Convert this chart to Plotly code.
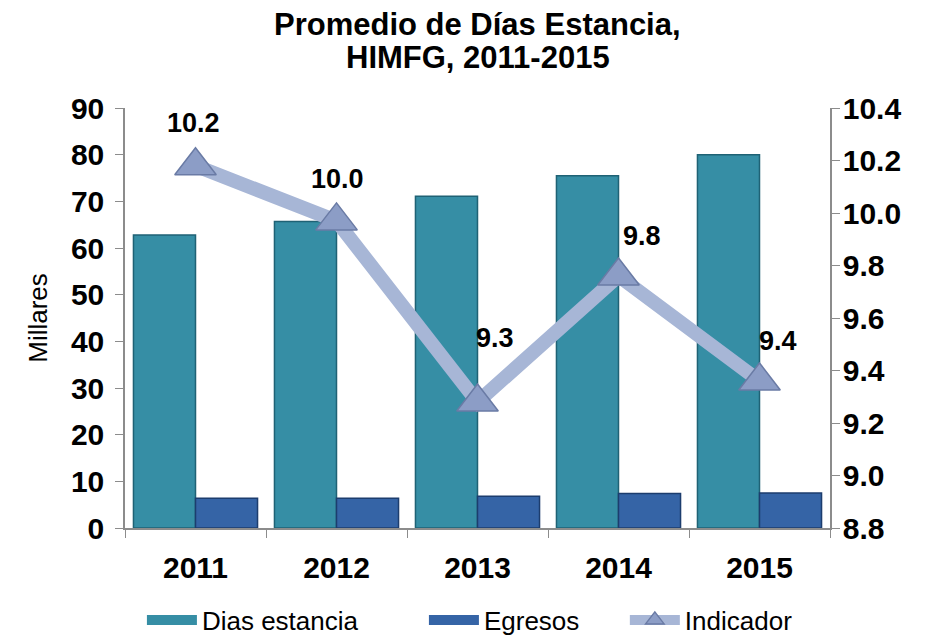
import plotly.graph_objects as go

years = ["2011", "2012", "2013", "2014", "2015"]
dias_estancia = [62.8, 65.7, 71.1, 75.5, 80.0]   # millares
egresos = [6.4, 6.4, 6.8, 7.4, 7.5]              # millares
indicador = [10.18, 9.97, 9.28, 9.76, 9.36]

left_ticks = [0, 10, 20, 30, 40, 50, 60, 70, 80, 90]
right_ticks = [8.8, 9.0, 9.2, 9.4, 9.6, 9.8, 10.0, 10.2, 10.4]

title_lines = ["Promedio de Días Estancia,", "HIMFG, 2011-2015"]

# label offsets (px) from each marker, as in the original
label_dx = [-2, 1, 17, 23, 18]
label_dy = [43, 42, 64, 40, 40]

FONT = "Liberation Sans, Arial, sans-serif"
TEAL = "#368EA5"
BLUE = "#3564A6"

fig = go.Figure()

fig.add_trace(go.Bar(
    x=years, y=dias_estancia, name="Dias estancia", showlegend=False,
    marker=dict(color=TEAL, line=dict(color="#1F6275", width=1.5)),
))
fig.add_trace(go.Bar(
    x=years, y=egresos, name="Egresos", showlegend=False,
    marker=dict(color=BLUE, line=dict(color="#1C3D6E", width=1.5)),
))
fig.add_trace(go.Scatter(
    x=years, y=indicador, name="Indicador", yaxis="y2", legend="legend3",
    mode="lines+markers",
    line=dict(color="#A7B6D6", width=14),
    marker=dict(symbol="triangle-up", size=36, color="#8C9DC6",
                line=dict(color="#6A7BA5", width=1.5)),
))

# wide flat legend keys for the bars, like the original's bevelled blocks
fig.add_trace(go.Scatter(x=[None], y=[None], name="Dias estancia", mode="lines",
                         line=dict(color=TEAL, width=15), legend="legend"))
fig.add_trace(go.Scatter(x=[None], y=[None], name="Egresos", mode="lines",
                         line=dict(color=BLUE, width=15), legend="legend2"))

# annotations on a category axis take the category index
for i, v in enumerate(indicador):
    fig.add_annotation(
        x=i, y=v, xref="x", yref="y2", text=f"{v:.1f}",
        showarrow=False, xshift=label_dx[i], yshift=label_dy[i],
        font=dict(family=FONT, size=27, color="black", weight="bold"),
    )

# two-line title, tighter line spacing than plotly's own title
for line, ypos in zip(title_lines, [1.199, 1.12]):
    fig.add_annotation(
        x=0.5, y=ypos, xref="paper", yref="paper", text=f"<b>{line}</b>",
        showarrow=False, xanchor="center", yanchor="middle",
        font=dict(family=FONT, size=31, color="black"),
    )

axis_line = dict(showline=True, linecolor="#8C8C8C", linewidth=1.5,
                 ticks="outside", ticklen=8, tickcolor="#8C8C8C",
                 showgrid=False, zeroline=False, automargin=False)

leg = dict(orientation="h", xanchor="left", y=-0.219, yanchor="middle", itemwidth=50,
           font=dict(family=FONT, size=26), bgcolor="rgba(0,0,0,0)")

# the page body adds an 8px offset; the figure is taller than the window so
# the legend never pushes the bottom margin
fig.update_layout(
    width=933, height=650,
    margin=dict(l=117, r=111, t=100, b=130),
    paper_bgcolor="white", plot_bgcolor="white",
    font=dict(family=FONT, color="black"),
    barmode="group", bargap=0.12, bargroupgap=0,
    xaxis=dict(**axis_line, type="category", tickson="boundaries",
               range=[-0.5, len(years) - 0.5], ticklabelstandoff=12,
               tickfont=dict(family=FONT, size=30, weight="bold")),
    yaxis=dict(**axis_line, range=[0, 90], tickvals=left_ticks, ticklabelstandoff=5,
               tickfont=dict(family=FONT, size=30, weight="bold"),
               title=dict(text="Millares", font=dict(family=FONT, size=26), standoff=16)),
    yaxis2=dict(**axis_line, overlaying="y", side="right", range=[8.8, 10.4],
                tickvals=right_ticks, tickformat=".1f", ticklabelstandoff=-3,
                tickfont=dict(family=FONT, size=30, weight="bold")),
    legend=dict(leg, x=0.024),
    legend2=dict(leg, x=0.424),
    legend3=dict(leg, x=0.709),
)

fig.write_html("out.html")
